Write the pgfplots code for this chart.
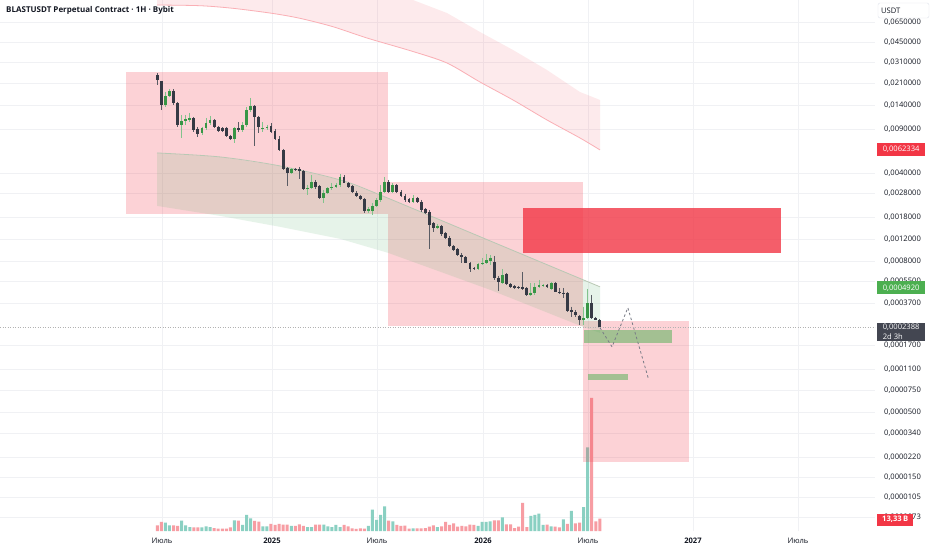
\documentclass[border=0pt]{standalone}
\usepackage{pgfplots}
\pgfplotsset{compat=1.18}
\usepackage{pgfplotstable}
\usepackage{fontspec}
\setmainfont{Open Sans}
\definecolor{gridc}{RGB}{240,241,244}
\definecolor{txt}{RGB}{19,23,34}
\definecolor{tvred}{RGB}{242,54,69}
\definecolor{tvgreen}{RGB}{76,175,80}
\definecolor{candleg}{RGB}{56,150,70}
\definecolor{candled}{RGB}{54,58,69}
\definecolor{wickg}{RGB}{130,195,140}
\definecolor{wickd}{RGB}{90,92,100}
\definecolor{volteal}{RGB}{138,208,194}
\definecolor{volred}{RGB}{247,157,163}
\definecolor{bandg}{RGB}{93,179,110}
\definecolor{bandline}{RGB}{185,200,180}
\definecolor{dashc}{RGB}{120,123,134}
\definecolor{labgray}{RGB}{67,70,81}
\definecolor{boxc}{RGB}{224,227,235}
\newcommand\tf{\fontsize{7.6}{9.5}\selectfont}

\pgfplotstableread{
x o h l c
1 0.02454 0.02546 0.02042 0.02239
2 0.02198 0.02198 0.01291 0.01415
3 0.01415 0.01796 0.01364 0.01669
4 0.01669 0.01897 0.01639 0.01829
5 0.01829 0.01897 0.01415 0.01468
6 0.01468 0.01495 0.009446 0.0098
7 0.0098 0.01178 0.007719 0.01054
8 0.01054 0.01178 0.0098 0.01094
9 0.01074 0.01222 0.01035 0.01115
10 0.01115 0.01135 0.008617 0.00894
11 0.009105 0.009446 0.007862 0.008306
12 0.008461 0.009446 0.008156 0.009275
13 0.009275 0.01115 0.00894 0.01016
14 0.01016 0.01157 0.0098 0.01074
15 0.01074 0.01094 0.009275 0.009446
16 0.009446 0.009622 0.008617 0.008777
17 0.009275 0.00936 0.008617 0.008777
18 0.009275 0.009446 0.007862 0.008008
19 0.008008 0.008156 0.007441 0.007578
20 0.007578 0.009446 0.007042 0.009275
21 0.009275 0.01035 0.008617 0.00894
22 0.00894 0.01035 0.008617 0.0098
23 0.0098 0.01364 0.009446 0.01291
24 0.01291 0.01609 0.01244 0.01389
25 0.01389 0.01415 0.006664 0.01135
26 0.01135 0.01157 0.008461 0.009446
27 0.009105 0.01035 0.008617 0.009275
28 0.009275 0.0098 0.00894 0.009446
29 0.009622 0.01016 0.008461 0.008617
30 0.008777 0.009105 0.007441 0.007578
31 0.007578 0.008008 0.00608 0.006193
32 0.006193 0.006307 0.00429 0.004369
33 0.00445 0.004532 0.003198 0.00406
34 0.00406 0.00445 0.003986 0.004369
35 0.004369 0.00445 0.004212 0.00425
36 0.004369 0.004532 0.003637 0.004212
37 0.004212 0.00429 0.002971 0.003026
38 0.003026 0.003257 0.002711 0.003082
39 0.003082 0.003914 0.003026 0.003441
40 0.003441 0.00357 0.003026 0.003139
41 0.003198 0.003257 0.002519 0.002566
42 0.002566 0.002971 0.00234 0.002812
43 0.002812 0.003111 0.00276 0.003082
44 0.003082 0.003379 0.002971 0.003139
45 0.003139 0.003379 0.003082 0.003257
46 0.003257 0.003986 0.003139 0.003773
47 0.003773 0.003914 0.003348 0.003379
48 0.003379 0.003441 0.003082 0.003139
49 0.003198 0.003257 0.002812 0.002864
50 0.002812 0.002917 0.002613 0.002662
51 0.002662 0.002711 0.002473 0.002519
52 0.002519 0.002566 0.001948 0.002021
53 0.002021 0.002175 0.001948 0.002096
54 0.002021 0.00234 0.001878 0.002215
55 0.002215 0.002566 0.002175 0.002473
56 0.002473 0.003257 0.002384 0.002864
57 0.002864 0.003773 0.002812 0.003441
58 0.003441 0.00357 0.002812 0.002864
59 0.002864 0.003379 0.002812 0.003257
60 0.003257 0.003317 0.002812 0.002864
61 0.002864 0.002971 0.002613 0.002662
62 0.002662 0.00276 0.002384 0.002473
63 0.002519 0.002566 0.00234 0.002384
64 0.002384 0.002711 0.00234 0.002566
65 0.002566 0.002613 0.00234 0.002384
66 0.002384 0.002473 0.001984 0.002058
67 0.002096 0.002135 0.001912 0.001948
68 0.001984 0.002058 0.001006 0.001563
69 0.001621 0.001651 0.001375 0.001479
70 0.001479 0.001592 0.001452 0.001535
71 0.001535 0.001563 0.001277 0.001325
72 0.00135 0.001375 0.001209 0.001231
73 0.001231 0.001277 0.001044 0.001063
74 0.001063 0.001083 0.00097 0.000988
75 0.001006 0.001025 0.000885 0.000901
76 0.000901 0.000935 0.000778 0.000868
77 0.000868 0.000885 0.000771 0.000778
78 0.000778 0.000792 0.000659 0.000697
79 0.00071 0.000723 0.000684 0.00069
80 0.00069 0.000778 0.000678 0.000764
81 0.000764 0.000853 0.00075 0.000778
82 0.000778 0.000918 0.000764 0.000822
83 0.000807 0.000901 0.00075 0.000853
84 0.000792 0.000885 0.000569 0.000591
85 0.000591 0.000613 0.000465 0.000548
86 0.000538 0.000697 0.000529 0.000624
87 0.000636 0.000647 0.000519 0.000529
88 0.000529 0.000538 0.000491 0.0005
89 0.00051 0.000519 0.000482 0.000491
90 0.0005 0.000505 0.000478 0.000487
91 0.0005 0.000659 0.000474 0.000482
92 0.000491 0.000496 0.000424 0.000432
93 0.000432 0.000538 0.000424 0.000449
94 0.000449 0.000538 0.000432 0.0005
95 0.0005 0.000569 0.000491 0.000519
96 0.00051 0.000524 0.0005 0.000519
97 0.000519 0.000529 0.000491 0.0005
98 0.000482 0.000543 0.000474 0.000538
99 0.000538 0.000543 0.000453 0.000457
100 0.000457 0.000491 0.00044 0.000449
101 0.000449 0.000491 0.000409 0.00044
102 0.000449 0.000457 0.000316 0.000322
103 0.000328 0.000347 0.000288 0.000316
104 0.000316 0.000328 0.000288 0.000299
105 0.000294 0.000299 0.000249 0.000273
106 0.000273 0.000347 0.000249 0.000283
107 0.000283 0.000482 0.000278 0.000373
108 0.000373 0.000432 0.000278 0.000283
109 0.000283 0.000288 0.000271 0.000273
110 0.000273 0.000276 0.000237 0.0002388
}\candles

\pgfplotsset{base/.style={at={(0pt,19pt)}, anchor=south west, scale only axis,
  width=875pt, height=531pt, xmin=-37.74, xmax=177.77}}

\begin{document}
\begin{tikzpicture}
\useasboundingbox (0pt,0pt) rectangle (932pt,550pt);
\fill[white] (0pt,0pt) rectangle (932pt,550pt);

% grid and tick labels
\begin{axis}[base, ymode=log, ymin=5.63e-6, ymax=0.09736,
  axis line style={draw=none}, tick style={draw=none},
  grid=major, major grid style={draw=gridc, line width=0.6pt},
  xtick={2.16,29.25,55.11,81.22,107.08,132.94,158.8},
  xticklabels={Июль,\textbf{2025},Июль,\textbf{2026},Июль,\textbf{2027},Июль},
  ytick={0.065,0.045,0.031,0.021,0.014,0.009,0.004,0.0028,0.0018,0.0012,0.0008,0.00055,0.00037,0.00017,0.00011,0.000075,0.00005,0.000034,0.000022,0.000015,0.0000105,0.0000073},
  yticklabels={{0,0650000},{0,0450000},{0,0310000},{0,0210000},{0,0140000},{0,0090000},{0,0040000},{0,0028000},{0,0018000},{0,0012000},{0,0008000},{0,0005500},{0,0003700},{0,0001700},{0,0001100},{0,0000750},{0,0000500},{0,0000340},{0,0000220},{0,0000150},{0,0000105},{0,0000073}},
  yticklabel pos=right,
  ticklabel style={font=\tf, text=txt},
  yticklabel style={anchor=west, inner sep=0pt, xshift=9pt},
  xticklabel style={anchor=center, inner sep=0pt, yshift=-10pt},
]
\addplot[draw=none] coordinates {(0,0.001)};
\end{axis}

% volume
\begin{axis}[base, ymin=0, ymax=572, hide axis]
\addplot[ybar, bar width=3pt, bar shift=0pt, fill=volteal, draw=none] coordinates {
(3,9.0) (4,6.1) (7,11.2) (8,6.1) (9,4.3) (12,4.0) (13,5.0) (14,4.3) (20,11.5) (22,6.5) (23,17.3) (24,13.7) (27,5.0) (28,5.0) (34,5.4) (38,4.3) (39,4.3) (42,6.8) (43,5.0) (44,4.3) (45,6.5) (46,4.3) (53,5.4) (54,23.0) (55,11.9) (56,17.3) (57,26.6) (59,10.4) (64,2.9) (70,4.3) (80,5.4) (81,9.7) (82,9.7) (83,10.4) (86,14.8) (93,16.2) (94,17.3) (95,18.7) (96,6.5) (98,5.0) (101,12.6) (103,21.6) (106,25.6) (107,90.0)};
\addplot[ybar, bar width=3pt, bar shift=0pt, fill=volred, draw=none] coordinates {
(1,6.1) (2,9.7) (5,6.1) (6,5.4) (10,4.0) (11,4.0) (15,3.2) (16,2.5) (17,2.5) (18,2.5) (19,4.0) (21,11.2) (25,10.8) (26,10.1) (29,7.6) (30,6.5) (31,7.6) (32,6.8) (33,6.8) (35,5.4) (36,7.2) (37,5.4) (40,6.8) (41,6.8) (47,6.5) (48,5.0) (49,2.9) (50,2.2) (51,2.9) (52,2.5) (58,11.2) (60,6.5) (61,5.4) (62,5.8) (63,2.5) (65,2.9) (66,2.9) (67,3.2) (68,4.7) (69,6.1) (71,5.0) (72,9.7) (73,6.5) (74,8.3) (75,4.7) (76,5.4) (77,5.0) (78,6.8) (79,6.5) (84,11.5) (85,11.5) (87,7.2) (88,7.2) (89,3.2) (90,4.7) (91,30.2) (92,4.3) (97,6.8) (99,4.7) (100,4.0) (102,7.6) (104,8.3) (105,9.0) (108,143.3) (109,10.4) (110,13.33)};
\coordinate (V1) at (axis cs:177.77,13.33);
\end{axis}

% price content
\begin{axis}[base, ymode=log, ymin=5.63e-6, ymax=0.09736, hide axis]
% upper pink channel
\addplot[fill=tvred, fill opacity=0.1, draw=none] coordinates {(0.93,0.15) (63.98,0.09736) (72.35,0.07666) (80.48,0.05408) (88.61,0.03886) (96.98,0.0269) (105.1,0.01796) (110.04,0.01551) (110.04,0.006193) (105.1,0.007719) (96.98,0.01074) (88.61,0.01551) (80.48,0.02158) (72.35,0.03059) (63.98,0.03779) (52.65,0.04843) (44.28,0.0596) (36.15,0.06955) (29.25,0.07624) (19.65,0.08358) (11.52,0.08768) (0.93,0.08882)} -- cycle;
\addplot[draw=tvred!40, line width=0.8pt, smooth] coordinates {(0.93,0.08882) (11.52,0.08768) (19.65,0.08358) (29.25,0.07624) (36.15,0.06955) (44.28,0.0596) (52.65,0.04843) (63.98,0.03779) (72.35,0.03059) (80.48,0.02158) (88.61,0.01551) (96.98,0.01074) (105.1,0.007719) (110.04,0.006193)};
% pink zones
\addplot[fill=tvred, fill opacity=0.22, draw=none] coordinates {(-6.71,0.00192) (57.9,0.00192) (57.9,0.02593) (-6.71,0.02593)} -- cycle;
\addplot[fill=tvred, fill opacity=0.22, draw=none] coordinates {(57.9,0.0002445) (105.85,0.0002445) (105.85,0.00346) (57.9,0.00346)} -- cycle;
\addplot[fill=tvred, fill opacity=0.22, draw=none] coordinates {(105.85,0.0000201) (131.96,0.0000201) (131.96,0.000268) (105.85,0.000268)} -- cycle;
% regression channel
\addplot[fill=bandg, fill opacity=0.15, draw=none] coordinates {(0.93,0.005861) (16.44,0.005446) (31.22,0.004616) (46.0,0.00357) (55.85,0.002711) (82.94,0.001165) (110.04,0.0005003) (110.04,0.0002148) (105.85,0.00024) (82.94,0.000474) (57.82,0.000935) (46.0,0.001209) (31.22,0.001507) (16.44,0.001844) (0.93,0.002215)} -- cycle;
\addplot[draw=bandline, line width=0.8pt, smooth] coordinates {(0.93,0.005861) (16.44,0.005446) (31.22,0.004616) (46.0,0.00357) (55.85,0.002711) (82.94,0.001165) (110.04,0.0005003)};
% strong red zone
\addplot[fill=tvred, fill opacity=0.8, draw=none] coordinates {(91.07,0.000935) (154.62,0.000935) (154.62,0.002135) (91.07,0.002135)} -- cycle;
% green zones
\addplot[fill=tvgreen, fill opacity=0.5, draw=none] coordinates {(106.1,0.0001787) (127.8,0.0001787) (127.8,0.000227) (106.1,0.000227)} -- cycle;
\addplot[fill=tvgreen, fill opacity=0.5, draw=none] coordinates {(107.06,0.0000906) (116.9,0.0000906) (116.9,0.0001012) (107.06,0.0001012)} -- cycle;
% wicks
\addplot[draw=none, mark=none, restrict expr to domain={\thisrow{c}-\thisrow{o}}{0:1},
  error bars/.cd, y dir=minus, y explicit, error mark=none,
  error bar style={draw=wickg, line width=0.8pt}]
  table[x=x, y=h, y error expr={\thisrow{h}-\thisrow{l}}] {\candles};
\addplot[draw=none, mark=none, restrict expr to domain={\thisrow{c}-\thisrow{o}}{-1:0},
  error bars/.cd, y dir=minus, y explicit, error mark=none,
  error bar style={draw=wickd, line width=0.8pt}]
  table[x=x, y=h, y error expr={\thisrow{h}-\thisrow{l}}] {\candles};
% bodies
\addplot[draw=none, mark=none, restrict expr to domain={\thisrow{c}-\thisrow{o}}{0:1},
  error bars/.cd, y dir=minus, y explicit, error mark=none,
  error bar style={draw=candleg, line width=2.8pt}]
  table[x=x, y=c, y error expr={\thisrow{c}-\thisrow{o}}] {\candles};
\addplot[draw=none, mark=none, restrict expr to domain={\thisrow{c}-\thisrow{o}}{-1:0},
  error bars/.cd, y dir=minus, y explicit, error mark=none,
  error bar style={draw=candled, line width=2.8pt}]
  table[x=x, y=o, y error expr={\thisrow{o}-\thisrow{c}}] {\candles};
% projection
\addplot[draw=dashc, line width=0.8pt, dash pattern=on 2.5pt off 2.5pt] coordinates {(110.04,0.0002357) (113.0,0.0001661) (116.9,0.0003407) (121.9,0.000094)};
% current price line
\addplot[draw=gray!60, line width=0.5pt, dotted] coordinates {(-37.74,0.0002388) (177.77,0.0002388)};
\coordinate (L1) at (axis cs:177.77,0.0062334);
\coordinate (L2) at (axis cs:177.77,0.000492);
\coordinate (L3) at (axis cs:177.77,0.0002388);
\end{axis}

% labels
\node[anchor=west, inner sep=0pt, font=\fontsize{8}{10}\selectfont\bfseries, text=txt] at (6pt,539.5pt) {BLASTUSDT Perpetual Contract · 1H · Bybit};
\draw[draw=boxc, fill=white, rounded corners=2pt] (878pt,532pt) rectangle (929pt,547pt);
\node[anchor=west, inner sep=0pt, font=\tf, text=txt] at (881pt,539.5pt) {USDT};
\node[fill=tvred, text=white, font=\tf, anchor=west, inner sep=0pt, minimum height=12.5pt, minimum width=48pt, xshift=2pt] at (L1) {0,0062334};
\node[fill=tvgreen, text=white, font=\tf, anchor=west, inner sep=0pt, minimum height=12.5pt, minimum width=48pt, xshift=2pt] at (L2) {0,0004920};
\node[fill=labgray, text=white, font=\tf, anchor=west, inner sep=1.5pt, align=left, minimum width=48pt, xshift=2pt, yshift=-4.5pt] at (L3) {0,0002388\\2d 3h};
\node[fill=tvred, text=white, font=\tf\bfseries, anchor=west, inner sep=0pt, minimum height=12pt, minimum width=36pt, xshift=2pt, yshift=-1pt] at (V1) {13,33\,B};
\end{tikzpicture}
\end{document}
